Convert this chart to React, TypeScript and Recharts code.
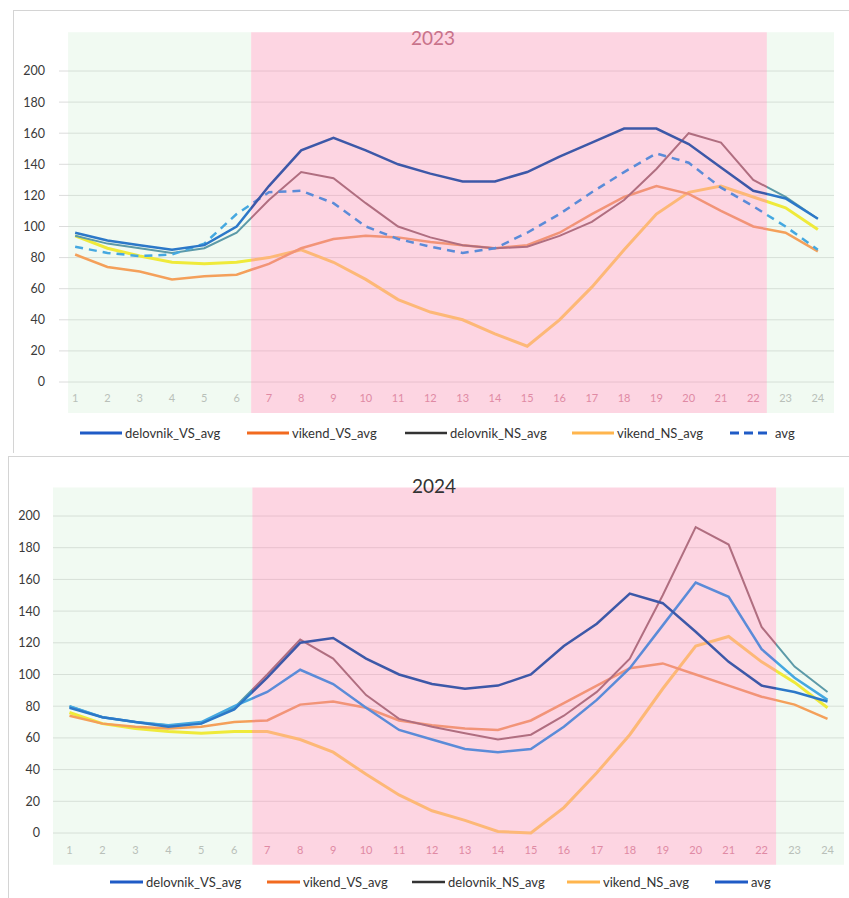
import { CartesianGrid, Line, LineChart, ReferenceArea, XAxis, YAxis } from "recharts";

const hours = [1, 2, 3, 4, 5, 6, 7, 8, 9, 10, 11, 12, 13, 14, 15, 16, 17, 18, 19, 20, 21, 22, 23, 24];
const yTicks = [0, 20, 40, 60, 80, 100, 120, 140, 160, 180, 200];
const seriesNames = ["delovnik_VS_avg", "vikend_VS_avg", "delovnik_NS_avg", "vikend_NS_avg", "avg"];

// 2023
const delovnikVS23 = [96, 91, 88, 85, 88, 100, 126, 149, 157, 149, 140, 134, 129, 129, 135, 145, 154, 163, 163, 153, 138, 123, 118, 105];
const vikendVS23 = [82, 74, 71, 66, 68, 69, 76, 86, 92, 94, 93, 90, 88, 86, 88, 96, 108, 119, 126, 121, 110, 100, 96, 84];
const delovnikNS23 = [94, 89, 86, 83, 86, 96, 117, 135, 131, 115, 100, 93, 88, 86, 87, 94, 103, 117, 137, 160, 154, 130, 119, 105];
const vikendNS23 = [94, 86, 81, 77, 76, 77, 80, 85, 77, 66, 53, 45, 40, 31, 23, 40, 61, 85, 108, 122, 126, 119, 112, 98];
const avg23 = [87, 83, 81, 82, 89, 108, 122, 123, 115, 100, 92, 87, 83, 86, 96, 108, 122, 135, 147, 141, 125, 113, 100, 85];

// 2024
const delovnikVS24 = [79, 73, 70, 67, 69, 78, 98, 120, 123, 110, 100, 94, 91, 93, 100, 118, 132, 151, 145, 127, 108, 93, 89, 83];
const vikendVS24 = [74, 69, 67, 66, 67, 70, 71, 81, 83, 79, 71, 68, 66, 65, 71, 82, 93, 104, 107, 100, 93, 86, 81, 72];
const delovnikNS24 = [80, 73, 70, 68, 69, 79, 100, 122, 110, 87, 72, 67, 63, 59, 62, 74, 89, 110, 150, 193, 182, 130, 105, 89];
const vikendNS24 = [76, 69, 66, 64, 63, 64, 64, 59, 51, 37, 24, 14, 8, 1, 0, 16, 38, 62, 91, 118, 124, 108, 95, 79];
const avg24 = [80, 73, 70, 68, 70, 80, 89, 103, 94, 79, 65, 59, 53, 51, 53, 67, 84, 104, 131, 158, 149, 116, 98, 84];

const build = (a: number[], b: number[], c: number[], d: number[], e: number[]) =>
  hours.map((hour, i) => ({
    hour,
    delovnik_VS_avg: a[i],
    vikend_VS_avg: b[i],
    delovnik_NS_avg: c[i],
    vikend_NS_avg: d[i],
    avg: e[i],
  }));

const data23 = build(delovnikVS23, vikendVS23, delovnikNS23, vikendNS23, avg23);
const data24 = build(delovnikVS24, vikendVS24, delovnikNS24, vikendNS24, avg24);

const FONT = "Lato, 'Open Sans', sans-serif";

// colour of each line inside the green (night) and pink (day) bands, and in the legend
const zoneColors: Record<string, { green: string; pink: string; legend: string }> = {
  delovnik_VS_avg: { green: "#2C78C8", pink: "#3D58A8", legend: "#1F5BC6" },
  vikend_VS_avg: { green: "#F4A05A", pink: "#F29478", legend: "#F26A1F" },
  delovnik_NS_avg: { green: "#5C9AA8", pink: "#B06E80", legend: "#333333" },
  vikend_NS_avg: { green: "#EFEA3A", pink: "#FDB877", legend: "#FFB54D" },
  avg: { green: "#45A8E0", pink: "#5B8BD8", legend: "#1F5BC6" },
};

const HourTick = (props: any) => {
  const { x, y, payload } = props;
  const h = payload.value;
  const inPink = h >= 7 && h <= 22;
  return (
    <text x={x} y={y} dy="0.71em" textAnchor="middle" fontSize={11} fontFamily={FONT} fill={inPink ? "#E08AA4" : "#B9C0B9"}>
      {h}
    </text>
  );
};

const Gradients = ({ id, p1, p2 }: { id: string; p1: number; p2: number }) => (
  <defs>
    {seriesNames.map((name) => {
      const c = zoneColors[name];
      return (
        <linearGradient key={name} id={`${id}-${name}`} x1="0" y1="0" x2="1" y2="0">
          <stop offset={0} stopColor={c.green} />
          <stop offset={p1} stopColor={c.green} />
          <stop offset={p1} stopColor={c.pink} />
          <stop offset={p2} stopColor={c.pink} />
          <stop offset={p2} stopColor={c.green} />
          <stop offset={1} stopColor={c.green} />
        </linearGradient>
      );
    })}
  </defs>
);

const LegendRow = ({ top, lefts, iconW, dashedAvg }: { top: number; lefts: number[]; iconW: number; dashedAvg: boolean }) => (
  <>
    {seriesNames.map((name, i) => (
      <div
        key={name}
        style={{ position: "absolute", left: lefts[i], top: top - 9, height: 18, display: "flex", alignItems: "center", fontFamily: FONT, fontSize: 13, color: "#333" }}
      >
        <svg width={iconW} height={6} style={{ marginRight: 3 }}>
          <line
            x1={0}
            y1={3}
            x2={iconW}
            y2={3}
            stroke={zoneColors[name].legend}
            strokeWidth={name === "delovnik_NS_avg" ? 2.5 : 3}
            strokeDasharray={name === "avg" && dashedAvg ? "9 5" : undefined}
          />
        </svg>
        {name}
      </div>
    ))}
  </>
);

type PanelProps = {
  id: string;
  data: any[];
  height: number;
  margin: { top: number; right: number; left: number; bottom: number };
  yWidth: number;
  yTickMargin: number;
  xTickMargin: number;
  bands: { greenL: [number, number]; pink: [number, number]; greenR: [number, number]; top: number };
  p1: number;
  p2: number;
  dashedAvg: boolean;
};

const Panel = ({ id, data, height, margin, yWidth, yTickMargin, xTickMargin, bands, p1, p2, dashedAvg }: PanelProps) => (
  <LineChart width={849} height={height} data={data} margin={margin}>
    <Gradients id={id} p1={p1} p2={p2} />
    <CartesianGrid vertical={false} stroke="#dcdcdc" />
    <ReferenceArea x1={bands.greenL[0]} x2={bands.greenL[1]} y1={-20} y2={bands.top} ifOverflow="visible" fill="#C8EBCD" fillOpacity={0.25} stroke="none" />
    <ReferenceArea x1={bands.pink[0]} x2={bands.pink[1]} y1={-20} y2={bands.top} ifOverflow="visible" fill="#FA9AB9" fillOpacity={0.42} stroke="none" />
    <ReferenceArea x1={bands.greenR[0]} x2={bands.greenR[1]} y1={-20} y2={bands.top} ifOverflow="visible" fill="#C8EBCD" fillOpacity={0.25} stroke="none" />
    <XAxis
      type="number"
      dataKey="hour"
      domain={[0.5, 24.5]}
      ticks={hours}
      interval={0}
      axisLine={false}
      tickLine={false}
      tickMargin={xTickMargin}
      height={30}
      tick={<HourTick />}
    />
    <YAxis
      domain={[0, 200]}
      ticks={yTicks}
      interval={0}
      axisLine={false}
      tickLine={false}
      width={yWidth}
      tickMargin={yTickMargin}
      tick={{ fontSize: 12.5, fill: "#3a3a3a", fontFamily: FONT }}
    />
    <Line type="linear" dataKey="vikend_NS_avg" stroke={`url(#${id}-vikend_NS_avg)`} strokeWidth={3} dot={false} isAnimationActive={false} />
    <Line type="linear" dataKey="vikend_VS_avg" stroke={`url(#${id}-vikend_VS_avg)`} strokeWidth={2.5} dot={false} isAnimationActive={false} />
    <Line type="linear" dataKey="delovnik_NS_avg" stroke={`url(#${id}-delovnik_NS_avg)`} strokeWidth={2} dot={false} isAnimationActive={false} />
    <Line
      type="linear"
      dataKey="avg"
      stroke={`url(#${id}-avg)`}
      strokeWidth={2.5}
      strokeDasharray={dashedAvg ? "8 6" : undefined}
      dot={false}
      isAnimationActive={false}
    />
    <Line type="linear" dataKey="delovnik_VS_avg" stroke={`url(#${id}-delovnik_VS_avg)`} strokeWidth={2.5} dot={false} isAnimationActive={false} />
  </LineChart>
);

export default function App() {
  return (
    <div style={{ position: "absolute", left: 0, top: 0, width: 849, height: 898, background: "#fff", overflow: "hidden" }}>
      {/* panel frames */}
      <div style={{ position: "absolute", left: 13, top: 10, width: 840, height: 442, borderTop: "1px solid #d4d4d4", borderLeft: "1px solid #d4d4d4" }} />
      <div style={{ position: "absolute", left: 8, top: 456, width: 845, height: 445, borderTop: "1px solid #d4d4d4", borderLeft: "1px solid #d4d4d4" }} />

      <div style={{ position: "absolute", left: 0, top: 0 }}>
        <Panel
          id="g23"
          data={data23}
          height={452}
          margin={{ top: 71, right: 15, left: 14, bottom: 40 }}
          yWidth={45}
          yTickMargin={8}
          xTickMargin={6}
          bands={{ greenL: [0.78, 6.45], pink: [6.45, 22.42], greenR: [22.42, 24.5], top: 225 }}
          p1={(6.45 - 1) / 23}
          p2={(22.42 - 1) / 23}
          dashedAvg
        />
      </div>
      <div style={{ position: "absolute", left: 0, top: 455 }}>
        <Panel
          id="g24"
          data={data24}
          height={443}
          margin={{ top: 61, right: 5, left: 13, bottom: 35 }}
          yWidth={40}
          yTickMargin={7}
          xTickMargin={7}
          bands={{ greenL: [0.5, 6.55], pink: [6.55, 22.44], greenR: [22.44, 24.5], top: 218 }}
          p1={(6.55 - 1) / 23}
          p2={(22.44 - 1) / 23}
          dashedAvg={false}
        />
      </div>

      <div style={{ position: "absolute", left: 383, top: 26, width: 100, textAlign: "center", fontFamily: FONT, fontSize: 19, color: "#C8728A" }}>2023</div>
      <div style={{ position: "absolute", left: 384, top: 474, width: 100, textAlign: "center", fontFamily: FONT, fontSize: 19, color: "#333" }}>2024</div>

      <LegendRow top={433} lefts={[80, 247, 405, 572, 730]} iconW={42} dashedAvg />
      <LegendRow top={882} lefts={[110, 267, 412, 567, 715]} iconW={33} dashedAvg={false} />
    </div>
  );
}
